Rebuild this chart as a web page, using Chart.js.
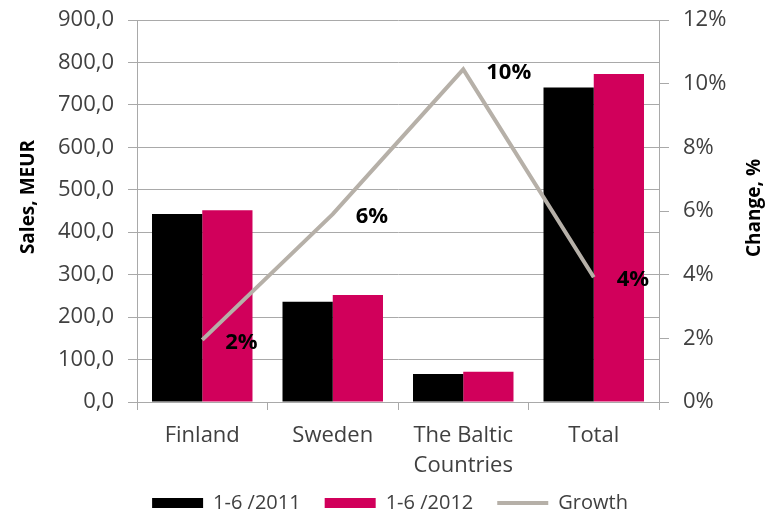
<!DOCTYPE html>
<html>
<head>
<meta charset="utf-8">
<script src="https://cdn.jsdelivr.net/npm/chart.js@4.4.0/dist/chart.umd.min.js"></script>
<style>
  html, body { margin: 0; padding: 0; background: #fff; }
  #wrap { width: 780px; height: 514px; }
</style>
</head>
<body>
<div id="wrap"><canvas id="chartCanvas" width="780" height="514"></canvas></div>
<script>
// data
const categories = ['Finland', 'Sweden', ['The Baltic', 'Countries'], 'Total'];
const sales2011 = [443, 236, 66, 741];
const sales2012 = [452, 252, 71, 773];
const growth = [1.95, 5.9, 10.45, 3.92];
const seriesNames = ['1-6 /2011', '1-6 /2012', 'Growth'];
const salesTicks = [0, 100, 200, 300, 400, 500, 600, 700, 800, 900];
const changeTicks = [0, 2, 4, 6, 8, 10, 12];
const salesTitle = 'Sales, MEUR';
const changeTitle = 'Change, %';

const gridColor = '#a9a9a9';
const textColor = '#404040';
const growthColor = '#b6b0a8';

Chart.defaults.font.family = "'Open Sans', sans-serif";
Chart.defaults.color = textColor;

// legend is kept short so it sits low, like the original
const legendHeight = {
  id: 'legendHeight',
  beforeLayout(chart) {
    const lg = chart.legend;
    if (!lg || lg._patched) return;
    const fit = lg.fit;
    lg.fit = function () {
      fit.call(this);
      this.height = 45;
    };
    lg._patched = true;
  }
};

// titles + data labels drawn by hand so they sit like the original
const extras = {
  id: 'extras',
  afterDatasetsDraw(chart) {
    const ctx = chart.ctx;
    const meta = chart.getDatasetMeta(2);
    ctx.save();
    ctx.fillStyle = '#000';
    ctx.font = "bold 22px 'Open Sans', sans-serif";
    ctx.textAlign = 'left';
    ctx.textBaseline = 'middle';
    meta.data.forEach((pt, i) => {
      ctx.fillText(Math.round(growth[i]) + '%', pt.x + 23, pt.y + 3);
    });
    ctx.restore();
  },
  afterDraw(chart) {
    const ctx = chart.ctx;
    ctx.save();
    ctx.fillStyle = '#000';
    ctx.font = "bold 19px 'Open Sans', sans-serif";
    ctx.textAlign = 'center';
    ctx.textBaseline = 'middle';
    ctx.translate(29, 197);
    ctx.rotate(-Math.PI / 2);
    ctx.fillText(salesTitle, 0, 0);
    ctx.restore();
    ctx.save();
    ctx.fillStyle = '#000';
    ctx.font = "bold 19px 'Open Sans', sans-serif";
    ctx.textAlign = 'center';
    ctx.textBaseline = 'middle';
    ctx.translate(755, 208);
    ctx.rotate(-Math.PI / 2);
    ctx.fillText(changeTitle, 0, 0);
    ctx.restore();
  }
};

function fixY(width) {
  return function (s) {
    s.width = width;
    s.paddingTop = 0;
    s.paddingBottom = 0;
  };
}

const chart = new Chart(document.getElementById('chartCanvas').getContext('2d'), {
  type: 'bar',
  data: {
    labels: categories,
    datasets: [
      {
        label: seriesNames[0],
        data: sales2011,
        backgroundColor: '#000000',
        yAxisID: 'y',
        order: 1,
        categoryPercentage: 0.77,
        barPercentage: 1
      },
      {
        label: seriesNames[1],
        data: sales2012,
        backgroundColor: '#d1005b',
        yAxisID: 'y',
        order: 1,
        categoryPercentage: 0.77,
        barPercentage: 1
      },
      {
        type: 'line',
        label: seriesNames[2],
        data: growth,
        borderColor: growthColor,
        backgroundColor: growthColor,
        borderWidth: 4,
        pointRadius: 0,
        tension: 0,
        yAxisID: 'y1',
        order: 0
      }
    ]
  },
  options: {
    responsive: false,
    animation: false,
    layout: { padding: { top: 20, bottom: 0, left: 0, right: 0 } },
    plugins: {
      tooltip: { enabled: false },
      legend: {
        position: 'bottom',
        labels: {
          usePointStyle: true,
          pointStyleWidth: 51,
          boxHeight: 10,
          padding: 24,
          color: textColor,
          font: { size: 20 },
          generateLabels(chart) {
            const items = Chart.defaults.plugins.legend.labels.generateLabels(chart);
            items.sort((a, b) => a.datasetIndex - b.datasetIndex);
            items.forEach(it => {
              if (it.datasetIndex === 2) {
                it.pointStyle = 'line';
                it.lineWidth = 4;
                it.strokeStyle = growthColor;
              } else {
                it.pointStyle = 'rect';
                it.lineWidth = 0;
              }
            });
            return items;
          }
        }
      }
    },
    scales: {
      x: {
        grid: { offset: true, drawOnChartArea: false, drawTicks: true, tickLength: 8, color: gridColor },
        border: { color: gridColor },
        ticks: { font: { size: 22, lineHeight: 1.4 }, color: textColor, padding: 10, maxRotation: 0 },
        afterFit(s) {
          s.height = 67;
          // let the two-line label run past the short axis box
          s._computeLabelArea = () => undefined;
        }
      },
      y: {
        position: 'left',
        min: 0,
        max: 900,
        afterBuildTicks(s) { s.ticks = salesTicks.map(v => ({ value: v })); },
        grid: { color: gridColor, tickLength: 9 },
        border: { color: gridColor },
        ticks: {
          font: { size: 22 },
          color: textColor,
          padding: 14,
          callback: v => v.toFixed(1).replace('.', ',')
        },
        afterFit: fixY(137)
      },
      y1: {
        position: 'right',
        min: 0,
        max: 12,
        afterBuildTicks(s) { s.ticks = changeTicks.map(v => ({ value: v })); },
        grid: { drawOnChartArea: false, color: gridColor, tickLength: 10 },
        border: { color: gridColor },
        ticks: {
          font: { size: 22 },
          color: textColor,
          padding: 14,
          callback: v => v + '%'
        },
        afterFit: fixY(121)
      }
    }
  },
  plugins: [legendHeight, extras]
});
</script>
</body>
</html>
